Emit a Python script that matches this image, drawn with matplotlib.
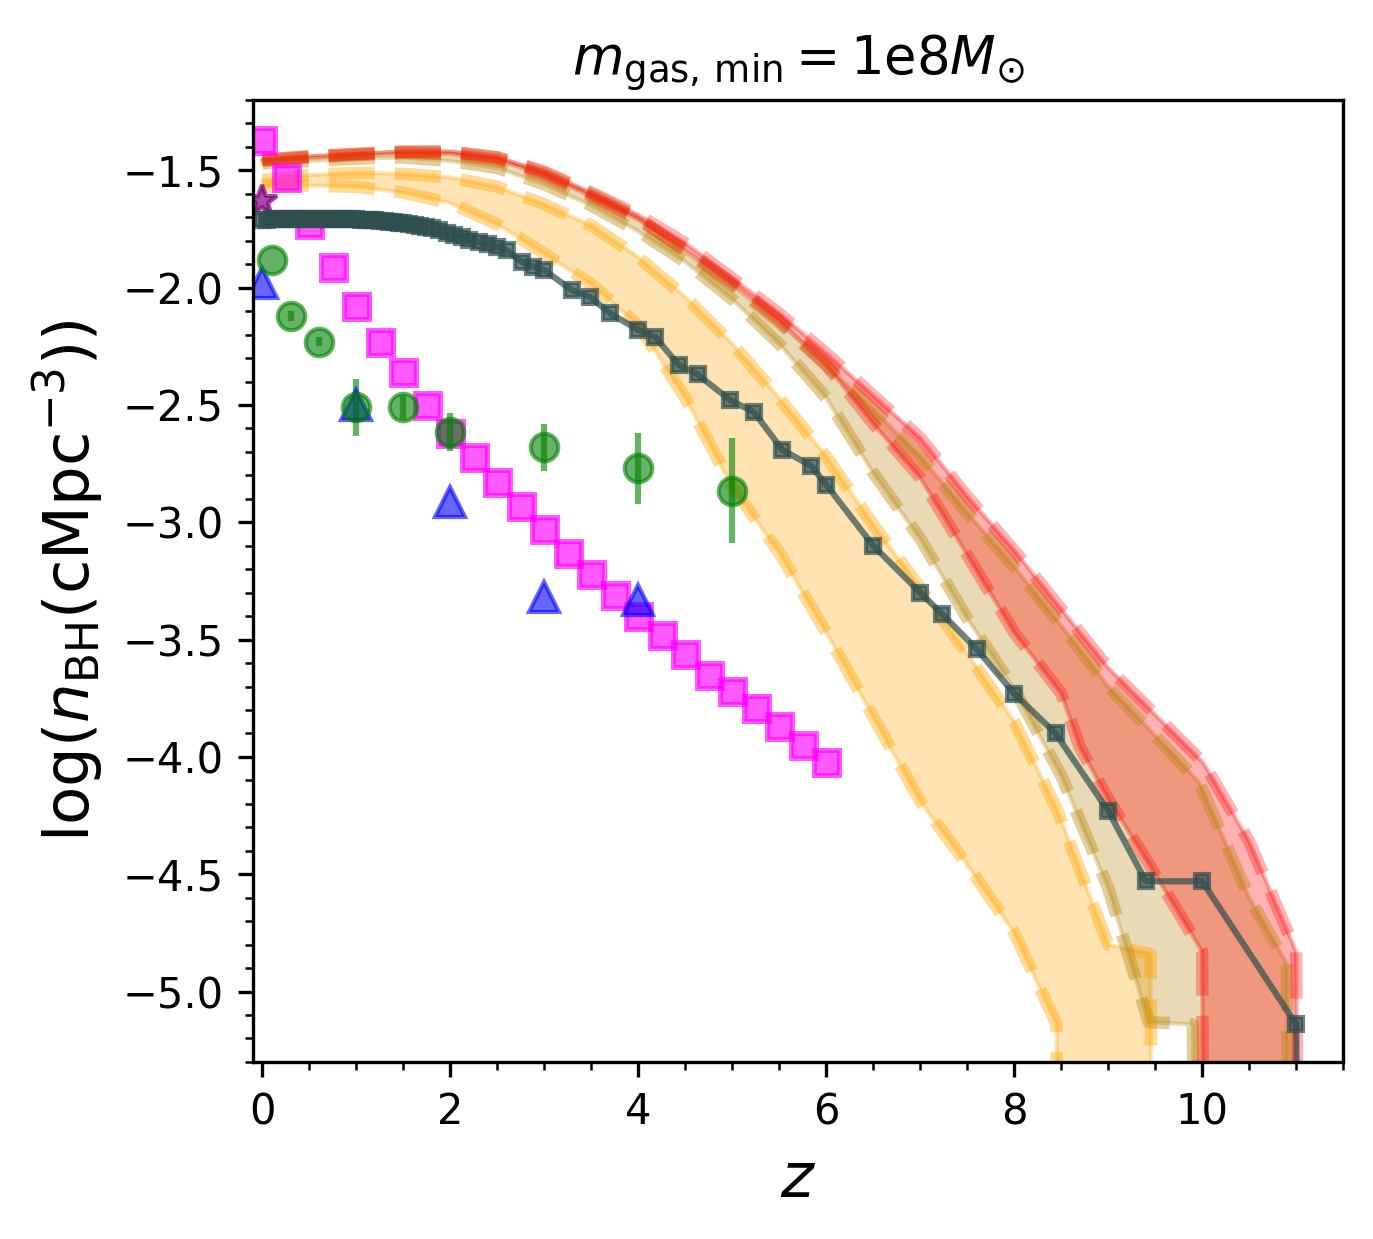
import numpy as np
import matplotlib
matplotlib.use('Agg')
import matplotlib.pyplot as plt
from matplotlib.ticker import AutoMinorLocator

#Simulation BH number density (dark line)
sim_z = [0.0, 0.05, 0.1, 0.15, 0.2, 0.25, 0.3, 0.35, 0.4, 0.45, 0.5, 0.55, 0.6, 0.65, 0.7,
         0.75, 0.8, 0.85, 0.9, 0.95, 1.0, 1.05, 1.1, 1.15, 1.2, 1.25, 1.3, 1.35, 1.4, 1.45,
         1.5, 1.56, 1.62, 1.68, 1.74, 1.8, 1.88, 1.96, 2.04, 2.12, 2.2, 2.3, 2.4, 2.5, 2.6,
         2.76, 2.88, 3.0, 3.29, 3.49, 3.7, 4.0, 4.18, 4.43, 4.63, 4.98, 5.23, 5.53, 5.84,
         6.0, 6.5, 7.0, 7.23, 7.6, 8.0, 8.44, 9.0, 9.4, 10.0, 11.0, 11.03]
sim_n = [-1.71, -1.71, -1.709, -1.709, -1.708, -1.708, -1.708, -1.707, -1.707, -1.707,
         -1.707, -1.707, -1.707, -1.706, -1.706, -1.706, -1.707, -1.707, -1.708, -1.708,
         -1.709, -1.71, -1.711, -1.712, -1.713, -1.715, -1.717, -1.719, -1.721, -1.723,
         -1.726, -1.73, -1.734, -1.738, -1.742, -1.747, -1.755, -1.765, -1.775, -1.785,
         -1.795, -1.805, -1.815, -1.825, -1.84, -1.89, -1.91, -1.925, -2.01, -2.04, -2.11,
         -2.18, -2.21, -2.33, -2.37, -2.48, -2.53, -2.69, -2.76, -2.84, -3.10, -3.30,
         -3.39, -3.54, -3.73, -3.90, -4.23, -4.53, -4.53, -5.14, -7.0]

#Model bands: orange
orange_z = [0.0, 0.5, 1.0, 1.5, 2.0, 2.5, 3.0, 3.5, 4.0, 4.5, 5.0, 5.5, 6.0, 6.5, 7.0,
            7.5, 8.0, 8.45, 8.5, 9.0, 9.45, 9.5]
orange_hi = [-1.54, -1.52, -1.51, -1.515, -1.53, -1.57, -1.645, -1.735, -1.87, -2.04,
             -2.24, -2.47, -2.72, -3.01, -3.28, -3.56, -3.85, -4.22, -4.27, -4.80, -4.84, -9.0]
orange_lo = [-1.57, -1.565, -1.57, -1.595, -1.64, -1.73, -1.855, -1.985, -2.16, -2.47,
             -2.85, -3.13, -3.47, -3.83, -4.19, -4.46, -4.75, -5.14, -9.0, -9.0, -9.0, -9.0]

#Model bands: darkgoldenrod
tan_z = [0.0, 0.5, 1.0, 1.5, 2.0, 2.5, 3.0, 3.5, 4.0, 4.5, 5.0, 5.5, 6.0, 6.5, 7.0,
         7.5, 8.0, 8.5, 9.0, 9.43, 9.9, 9.97, 10.5, 10.9, 11.0]
tan_hi = [-1.455, -1.44, -1.43, -1.42, -1.42, -1.445, -1.51, -1.60, -1.70, -1.85, -1.99,
          -2.15, -2.33, -2.52, -2.72, -2.96, -3.19, -3.44, -3.70, -3.88, -4.08, -4.11,
          -4.60, -4.88, -9.0]
tan_lo = [-1.47, -1.46, -1.45, -1.445, -1.46, -1.49, -1.56, -1.65, -1.76, -1.89, -2.05,
          -2.24, -2.47, -2.79, -3.07, -3.41, -3.71, -4.08, -4.56, -5.13, -5.14, -9.0,
          -9.0, -9.0, -9.0]

#Model bands: red
red_z = [0.0, 0.5, 1.0, 1.5, 2.0, 2.5, 3.0, 3.5, 4.0, 4.5, 5.0, 5.5, 6.0, 6.5, 7.0,
         7.5, 8.0, 8.5, 8.7, 9.0, 9.5, 10.0, 10.05, 10.5, 11.0, 11.07]
red_hi = [-1.455, -1.44, -1.43, -1.42, -1.42, -1.445, -1.505, -1.595, -1.69, -1.81, -1.96,
          -2.11, -2.28, -2.46, -2.64, -2.89, -3.12, -3.37, -3.47, -3.62, -3.82, -4.02,
          -4.05, -4.36, -4.83, -9.0]
red_lo = [-1.46, -1.445, -1.435, -1.425, -1.43, -1.455, -1.52, -1.61, -1.71, -1.84, -1.98,
          -2.14, -2.33, -2.58, -2.81, -3.14, -3.47, -3.73, -3.96, -4.18, -4.50, -4.83,
          -9.0, -9.0, -9.0, -9.0]

#Observational data
mag_z = [0.0, 0.25, 0.5, 0.75, 1.0, 1.25, 1.5, 1.75, 2.0, 2.25, 2.5, 2.75, 3.0, 3.25,
         3.5, 3.75, 4.0, 4.25, 4.5, 4.75, 5.0, 5.25, 5.5, 5.75, 6.0]
mag_n = [-1.37, -1.53, -1.73, -1.91, -2.08, -2.23, -2.36, -2.50, -2.62, -2.72, -2.83,
         -2.93, -3.03, -3.13, -3.22, -3.31, -3.40, -3.48, -3.56, -3.65, -3.72, -3.79,
         -3.87, -3.95, -4.02]

green_z = [0.1, 0.3, 0.6, 1.0, 1.5, 2.0, 3.0, 4.0, 5.0]
green_n = [-1.88, -2.12, -2.23, -2.51, -2.51, -2.615, -2.68, -2.77, -2.865]
green_err = [0.0, 0.02, 0.02, 0.12, 0.05, 0.08, 0.10, 0.15, 0.225]

blue_z = [0.0, 1.0, 2.0, 3.0, 4.0]
blue_n = [-1.98, -2.50, -2.915, -3.32, -3.33]

star_z = [0.0]
star_n = [-1.63]

fig = plt.figure(figsize=(4.577, 4.13), dpi=300)
ax = fig.add_axes([0.1843, 0.1429, 0.7939, 0.7764])

#Bands with dashed edges
for z, lo, hi, c, a in [(orange_z, orange_lo, orange_hi, 'orange', 0.4),
                        (tan_z, tan_lo, tan_hi, 'darkgoldenrod', 0.4),
                        (red_z, red_lo, red_hi, 'red', 0.3)]:
    ax.fill_between(z, lo, hi, color=c, alpha=0.3)
    ax.plot(z, hi, '--', color=c, lw=3, alpha=a)
    ax.plot(z, lo, '--', color=c, lw=3, alpha=a)

ax.plot(mag_z, mag_n, 's', color='magenta', ms=6, mew=1.2, alpha=0.65, ls='none')
ax.errorbar(green_z, green_n, yerr=green_err, fmt='o', color='green', ms=6.6, mew=1,
            elinewidth=1.5, alpha=0.6)
ax.plot(blue_z, blue_n, '^', color='blue', ms=7, mew=1, alpha=0.6, ls='none')
ax.plot(star_z, star_n, '*', color='purple', ms=7.5, mew=1, alpha=0.7, ls='none')

ax.plot(sim_z, sim_n, 's-', color='darkslategray', ms=3.5, mew=1, lw=1.5, alpha=0.7)

ax.set_xlim(-0.1, 11.5)
ax.set_ylim(-5.3, -1.2)
ax.xaxis.set_minor_locator(AutoMinorLocator())
ax.yaxis.set_minor_locator(AutoMinorLocator())
ax.tick_params(labelsize=10)

ax.set_xlabel(r'$z$', fontsize=15)
ax.set_ylabel(r'$\log(n_{\rm BH}({\rm cMpc}^{-3}))$', fontsize=15)
ax.set_title(r'$m_{\rm gas,\,min}=1{\rm e}8M_{\odot}$', fontsize=12.7)

fig.savefig('out.png', dpi=300)
